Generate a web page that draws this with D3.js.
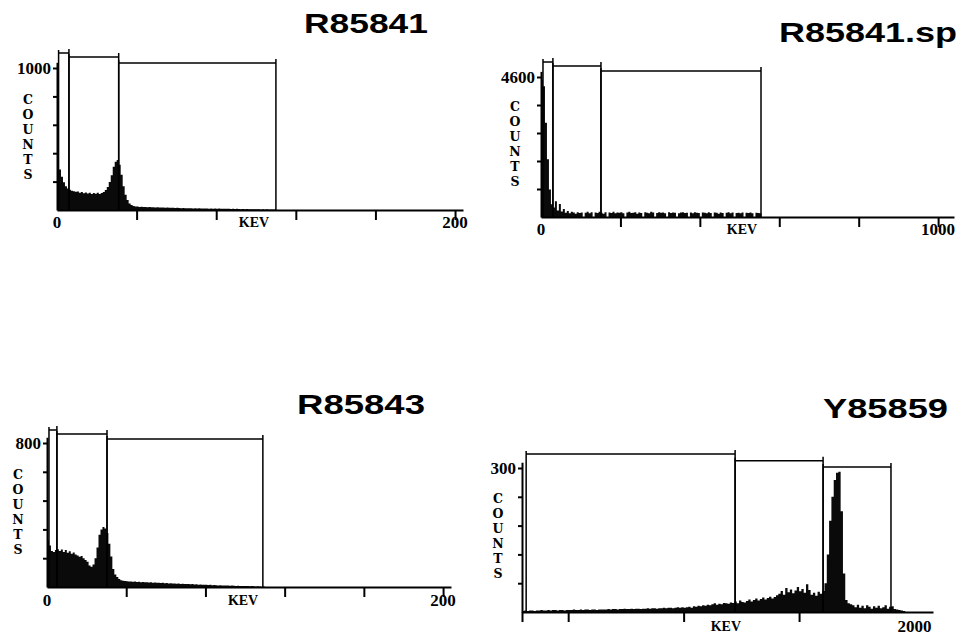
<!DOCTYPE html>
<html>
<head>
<meta charset="utf-8">
<script src="https://cdn.jsdelivr.net/npm/d3@7"></script>
<style>
  body { margin: 0; background: #fff; }
  .title { font-family: "Liberation Sans", Arial, sans-serif; font-weight: bold; font-size: 28px; }
  .lab { font-family: "Liberation Serif", "Times New Roman", serif; font-weight: bold; font-size: 17px; }
  .kev { font-family: "Liberation Serif", "Times New Roman", serif; font-weight: bold; font-size: 14px; }
  .cnt { font-family: "DejaVu Serif", serif; font-weight: bold; font-size: 12.5px; }
  .axis path, .axis line { stroke: #000; stroke-width: 2px; }
  .roi { stroke: #000; stroke-width: 1.5px; fill: none; }
</style>
</head>
<body>
<svg id="chart" width="961" height="637"></svg>
<script>
'use strict';

// panel titles
const titles = ['R85841', 'R85841.sp', 'R85843', 'Y85859'];

// channel width (keV) and energy of first channel for each spectrum
const chanWidth = [1, 5, 1, 10];
const chanStart = [0, 0, 0, 300];

// counts per channel
const r85841 = [
  330, 285, 235, 195, 168, 152, 142, 136, 132, 128,
  130, 122, 126, 118, 124, 116, 121, 113, 120, 115,
  122, 112, 119, 126, 140, 162, 198, 245, 305, 340,
  352, 318, 248, 168, 108, 70, 45, 35, 28, 25,
  24, 22, 23, 21, 22, 20, 21, 19, 20, 18,
  19, 18, 17, 18, 16, 17, 15, 16, 15, 14,
  15, 14, 13, 14, 13, 12, 13, 12, 11, 12,
  11, 12, 10, 11, 10, 11, 9, 10, 9, 10,
  9, 10, 8, 9, 8, 9, 8, 7, 8, 7,
  8, 7, 6, 7, 6, 7, 6, 5, 6, 5,
  6, 5, 4, 5, 4, 5, 4, 3, 4, 3,
];
const r85841sp = [
  4500, 4300, 3100, 1900, 900, 420, 310, 520, 210, 430,
  180, 260, 140, 200, 120, 170, 150, 110, 160, 130,
  150, 0, 140, 170, 120, 160, 0, 150, 130, 170,
  140, 110, 160, 0, 150, 130, 170, 120, 150, 140,
  160, 120, 0, 150, 170, 130, 140, 160, 110, 150,
  130, 0, 160, 140, 120, 170, 150, 0, 130, 160,
  140, 150, 120, 0, 160, 130, 150, 140, 0, 120,
  150, 160, 130, 140, 0, 150, 120, 160, 140, 130,
  0, 150, 140, 120, 160, 130, 0, 150, 140, 110,
  150, 130, 0, 140, 160, 120, 150, 0, 130, 140,
  120, 150, 0, 140, 130, 150, 120, 0, 140, 130, 120,
];
const r85843 = [
  260, 230, 200, 195, 205, 210, 200, 208, 195, 205,
  190, 198, 185, 192, 180, 175, 168, 172, 160, 150,
  140, 120, 112, 125, 160, 220, 290, 320, 333, 325,
  300, 240, 170, 100, 70, 55, 45, 38, 35, 33,
  32, 30, 31, 29, 30, 28, 29, 27, 28, 26,
  27, 25, 26, 24, 25, 23, 24, 22, 23, 21,
  22, 20, 21, 19, 20, 18, 19, 17, 18, 16,
  17, 16, 15, 16, 14, 15, 13, 14, 12, 13,
  12, 11, 12, 10, 11, 10, 9, 10, 9, 8,
  9, 8, 7, 8, 7, 6, 7, 6, 5, 6,
  5, 6, 4, 5, 4, 3, 4, 3, 2, 3,
];
const y85859 = [
  2, 3, 2, 3, 3, 2, 3, 3, 4, 3, 3, 4, 3, 4, 4, 3, 4, 4, 3, 4,
  4, 4, 5, 4, 4, 5, 4, 5, 5, 4, 5, 5, 4, 5, 5,
  5, 5, 6, 5, 6, 6, 5, 6, 6, 7, 6, 6, 7, 6, 7, 7, 6, 7, 7, 8,
  7, 8, 8, 7, 8, 8, 9, 8, 9, 9, 8, 9, 10, 9, 10, 9,
  10, 11, 9, 12, 11, 13, 12, 14, 13, 15, 14, 16, 18, 15, 17, 16, 19, 18, 17, 20,
  19, 22, 18, 24, 21, 20, 23, 26, 22, 25, 28, 24, 27, 30, 26, 29, 32, 28, 31, 35,
  38, 44, 36, 50, 41, 47, 39, 45, 52, 43, 48, 40, 58, 46, 36, 40, 34, 42, 38, 44,
  60, 120, 190, 240, 275, 290, 292, 210, 80, 25, 18, 16,
  14, 10, 15, 9, 13, 8, 14, 11, 7, 12, 9, 13, 8, 10, 14, 7, 11, 12, 6, 5, 4, 3, 2,
];
const spectra = [r85841, r85841sp, r85843, y85859];

// y axis: full scale and its label
const yMax = [1000, 4600, 800, 300];
const yLabel = ['1000', '4600', '800', '300'];

// x axis ticks and labels (keV)
const xTicks = [
  [40, 80, 120, 160, 200],
  [200, 400, 600, 800, 1000],
  [40, 80, 120, 160, 200],
  [300, 500, 1000, 1500],
];
const xLabelVal = [[0, 200], [0, 1000], [0, 200], [2000]];
const xLabelText = [['0', '200'], ['0', '1000'], ['0', '200'], ['2000']];
const kevAt = [99, 506, 99, 1183];

// regions of interest: start, end (keV) and marker height (counts)
const roiLo = [[0.8, 6, 31], [5, 30, 151], [1, 5, 30.3], [318, 1223, 1604]];
const roiHi = [[6, 31, 110], [30, 151, 554], [5, 30.3, 109], [1223, 1604, 1898]];
const roiTop = [[1106, 1078, 1035], [5093, 4961, 4797], [872, 850, 822], [329, 315, 302]];

// pixel layout of each panel
const layout = [
  { x0: 57, x1: 463, base: 210, top: 68, xDom: [0, 204], title: [304, 33, 124], counts: [28, 104], lab: 12 },
  { x0: 541, x1: 954, base: 217, top: 77, xDom: [0, 1040], title: [779, 42, 178], counts: [515, 111], lab: 12 },
  { x0: 47, x1: 451, base: 587, top: 443, xDom: [0, 204], title: [297, 414, 128], counts: [18, 479], lab: 13 },
  { x0: 522, x1: 933, base: 612, top: 468, xDom: [300, 2080], title: [823, 418, 125], counts: [498, 503], lab: 14 },
];

const svg = d3.select('#chart');

// drawPanel: one spectrum with its axes, ROI markers and labels
const drawPanel = function (i) {
  const L = layout[i];
  const g = svg.append('g').attr('class', 'panel');
  const x = d3.scaleLinear().domain(L.xDom).range([L.x0, L.x1]);
  const y = d3.scaleLinear().domain([0, yMax[i]]).range([L.base, L.top]);

  // channel points for step area
  const counts = spectra[i];
  const pts = counts.map((c, k) => ({ e: chanStart[i] + k * chanWidth[i], c }));
  pts.push({ e: chanStart[i] + counts.length * chanWidth[i], c: counts[counts.length - 1] });
  const area = d3.area()
    .curve(d3.curveStepAfter)
    .x((d) => x(d.e))
    .y0(L.base)
    .y1((d) => y(d.c));
  g.append('path').attr('d', area(pts)).attr('fill', '#0a0a0a');

  // ROI markers: top bar plus verticals down to the baseline
  roiLo[i].forEach((lo, k) => {
    const t = y(roiTop[i][k]);
    const hi = roiHi[i][k];
    g.append('path')
      .attr('class', 'roi')
      .attr('d', `M${x(lo)},${L.base} V${t - 3} M${x(lo)},${t} H${x(hi)} M${x(hi)},${t - 4} V${L.base}`);
  });

  // y axis, extended a little past the top tick
  const yAx = d3.scaleLinear().domain([0, yMax[i] * 1.04]).range([L.base, L.top - (L.base - L.top) * 0.04]);
  g.append('g')
    .attr('class', 'axis')
    .attr('transform', `translate(${L.x0},0)`)
    .call(d3.axisLeft(yAx).tickValues(d3.range(1, 6).map((k) => (k * yMax[i]) / 5)).tickSize(4).tickSizeOuter(0).tickFormat(''));
  g.append('text')
    .attr('class', 'lab')
    .attr('x', L.x0 - 6)
    .attr('y', y(yMax[i]))
    .attr('dy', '0.35em')
    .attr('text-anchor', 'end')
    .text(yLabel[i]);

  // x axis
  g.append('g')
    .attr('class', 'axis')
    .attr('transform', `translate(0,${L.base})`)
    .call(d3.axisBottom(x).tickValues(xTicks[i]).tickSize(10).tickSizeOuter(0).tickFormat(''));
  xLabelVal[i].forEach((v, k) => {
    g.append('text')
      .attr('class', 'lab')
      .attr('x', x(v))
      .attr('y', L.base + L.lab)
      .attr('dy', '0.35em')
      .attr('text-anchor', 'middle')
      .text(xLabelText[i][k]);
  });
  g.append('text')
    .attr('class', 'kev')
    .attr('x', x(kevAt[i]))
    .attr('y', L.base + L.lab)
    .attr('dy', '0.35em')
    .attr('text-anchor', 'middle')
    .text('KEV');

  // stacked COUNTS label
  g.append('g')
    .selectAll('text')
    .data('COUNTS'.split(''))
    .join('text')
    .attr('class', 'cnt')
    .attr('x', L.counts[0])
    .attr('y', (d, k) => L.counts[1] + k * 15)
    .attr('text-anchor', 'middle')
    .text((d) => d);

  // title
  g.append('text')
    .attr('class', 'title')
    .attr('x', L.title[0])
    .attr('y', L.title[1])
    .attr('textLength', L.title[2])
    .attr('lengthAdjust', 'spacingAndGlyphs')
    .text(titles[i]);
};

d3.range(4).forEach(drawPanel);
</script>
</body>
</html>
